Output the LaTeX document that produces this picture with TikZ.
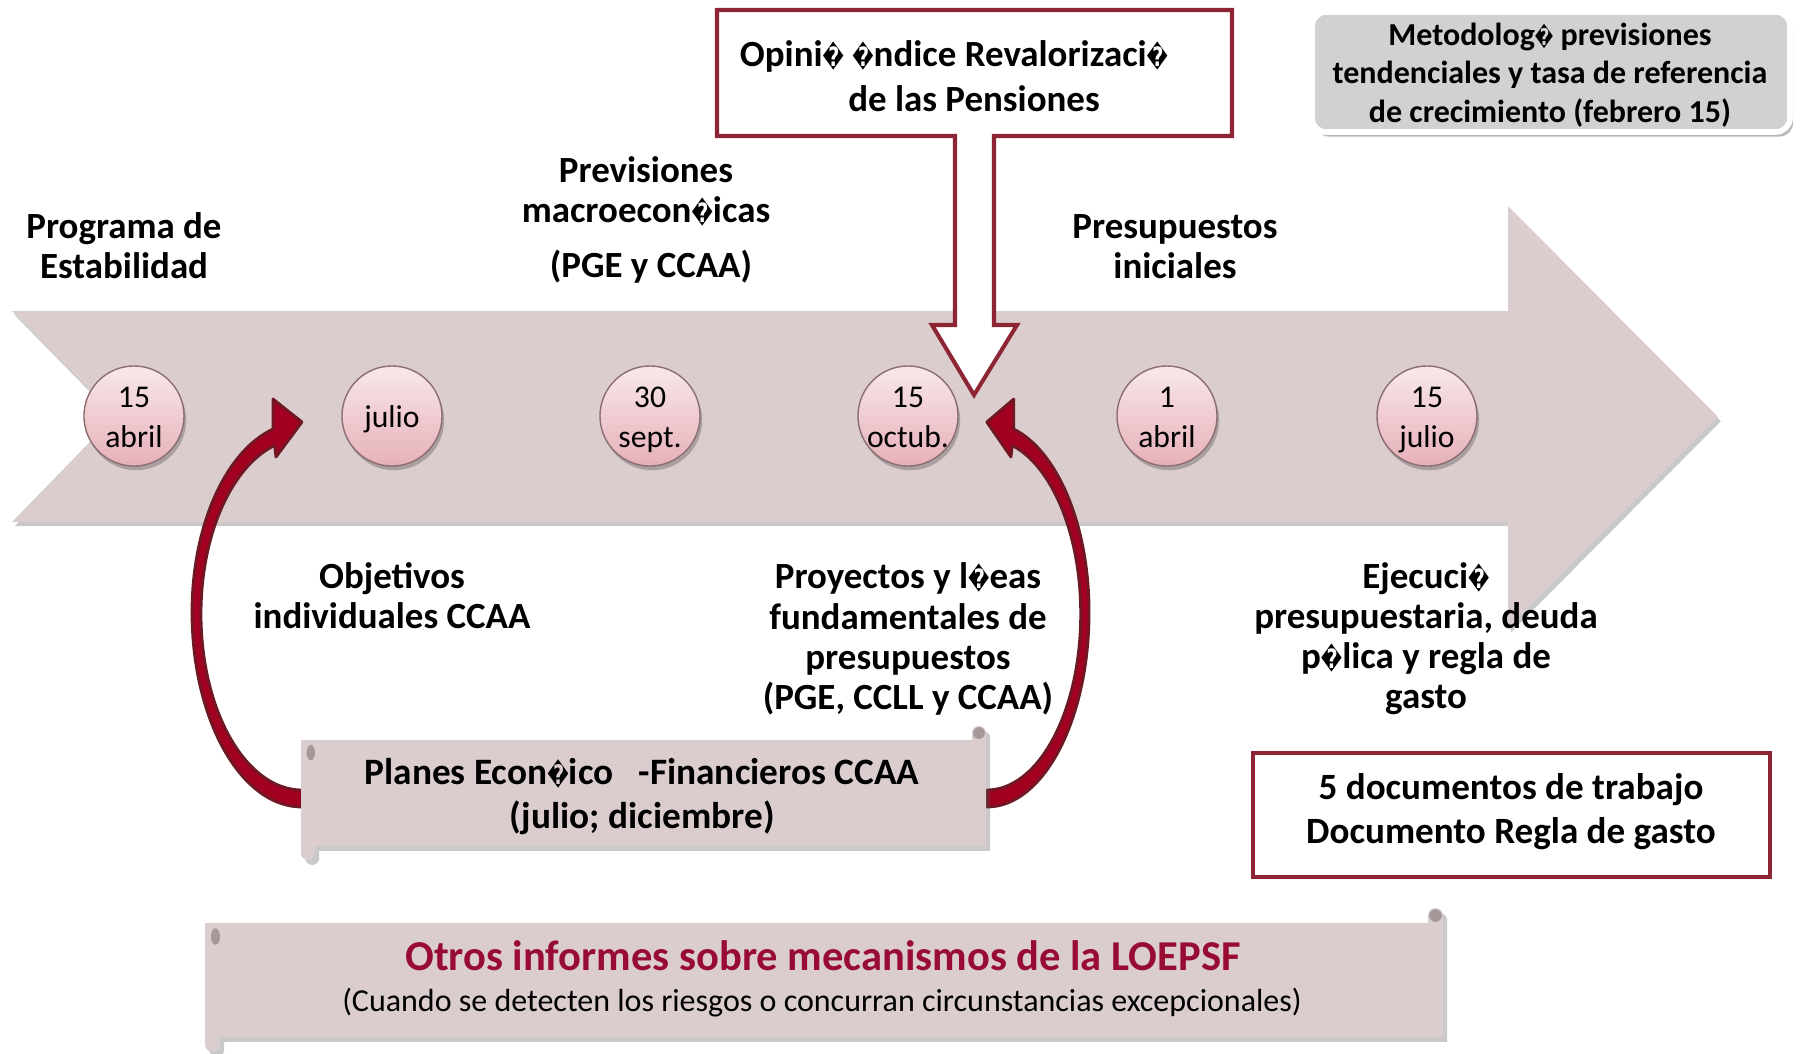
\documentclass[tikz,border=0pt]{standalone}
\usepackage{fontspec}
\usepackage{graphicx}
\setmainfont{Carlito}
\newfontfamily\dvfont{DejaVu Sans}
\usetikzlibrary{shadows}
\newcommand\tofu{{\dvfont\scalebox{0.52}[0.72]{\symbol{"FFFD}}}}
\definecolor{band}{RGB}{219,205,206}
\definecolor{boxred}{RGB}{142,37,52}
\definecolor{arrowred}{RGB}{163,0,33}
\definecolor{arrowdark}{RGB}{110,24,36}
\definecolor{metgray}{RGB}{209,209,209}
\definecolor{titlered}{RGB}{152,12,52}
\definecolor{circtop}{RGB}{248,232,235}
\definecolor{circbot}{RGB}{230,176,184}
\definecolor{circline}{RGB}{140,110,114}
\definecolor{curl}{RGB}{165,152,153}
\newcommand\redcurve{%
  \filldraw[fill=arrowred, draw=arrowdark, line width=0.8pt, line join=round]
    (302,807) .. controls (241,807) and (192,720) .. (192,612)
    .. controls (192,525) and (226,451) .. (273,429)
    -- (273,399) -- (302,422) -- (276,457) -- (274.6,445.5)
    .. controls (232.1,466.1) and (201,533.7) .. (201,614)
    .. controls (201,711.2) and (246.2,790) .. (302,790) -- cycle;}
\newcommand\myscroll[5]{%
  \fill[band, drop shadow={shadow xshift=1.2pt,shadow yshift=-1.4pt,opacity=0.3,fill=black!70}]
    (#1,#2+#5) -- (#3-#5,#2+#5) -- (#3-#5,#2+0.5*#5)
    .. controls (#3-#5,#2+0.22*#5) and (#3-0.78*#5,#2) .. (#3-0.5*#5,#2)
    .. controls (#3-0.22*#5,#2) and (#3,#2+0.22*#5) .. (#3,#2+0.5*#5)
    -- (#3,#4-#5) -- (#1+#5,#4-#5) -- (#1+#5,#4-0.5*#5)
    .. controls (#1+#5,#4-0.22*#5) and (#1+0.78*#5,#4) .. (#1+0.5*#5,#4)
    .. controls (#1+0.22*#5,#4) and (#1,#4-0.22*#5) .. (#1,#4-0.5*#5) -- cycle;
  \fill[curl] (#3-0.5*#5,#2+0.5*#5) circle[radius=0.42*#5];
  \fill[curl] (#1+0.7*#5,#2+1.9*#5) ellipse[x radius=0.3*#5, y radius=0.55*#5];}
\begin{document}
\begin{tikzpicture}[x=0.01cm,y=-0.01cm,
  lab/.style={font=\bfseries\fontsize{10.5}{11.4}\selectfont, align=center, inner sep=0pt},
  datecirc/.style={circle, minimum size=1cm, inner sep=0pt, draw=circline, line width=0.4pt,
    top color=circtop, bottom color=circbot,
    drop shadow={shadow xshift=0.6pt, shadow yshift=-1.2pt, opacity=0.35, fill=black!70}},
  datetext/.style={align=center, inner sep=0pt, font=\fontsize{9}{11.4}\selectfont},
  redbox/.style={draw=boxred, line width=1.15pt, fill=white}]
\useasboundingbox (0,0) rectangle (1802,1053);
% main arrow band
\fill[band, drop shadow={shadow xshift=0.8pt,shadow yshift=-1.2pt,opacity=0.3,fill=black!70}]
  (12,311) -- (1508,311) -- (1508,206) -- (1718,417) -- (1508,628) -- (1508,522) -- (12,522) -- (115,416) -- cycle;
% date circles
\node[datecirc] (c1) at (134,416) {};
\node[datecirc] (c2) at (392,416) {};
\node[datecirc] (c3) at (650,416) {};
\node[datecirc] (c4) at (908,416) {};
\node[datecirc] (c5) at (1167,416) {};
\node[datecirc] (c6) at (1427,416) {};
\node[datetext] (t1) at (134,419.5) {15\strut\\abril\strut};
\node[datetext] (t2) at (392,419.5) {julio\strut};
\node[datetext] (t3) at (650,419.5) {30\strut\\sept.\strut};
\node[datetext] (t4) at (908,419.5) {15\strut\\octub.\strut};
\node[datetext] (t5) at (1167,419.5) {1\strut\\abril\strut};
\node[datetext] (t6) at (1427,419.5) {15\strut\\julio\strut};
% top box with hollow arrow
\filldraw[redbox, line join=miter]
  (955,136) -- (717,136) -- (717,10) -- (1232,10) -- (1232,136) -- (994,136)
  -- (994,325) -- (1017,325) -- (974,395) -- (932,325) -- (955,325) -- cycle;
\node[lab, font=\bfseries\fontsize{10.5}{12}\selectfont] (op1) at (954,56) {Opini\tofu{} \tofu{}ndice Revalorizaci\tofu{}};
\node[lab, font=\bfseries\fontsize{10.5}{12}\selectfont] (op2) at (974,99) {de las Pensiones};
% metodologia box
\filldraw[fill=metgray, draw=white, line width=1.6pt, rounded corners=4pt,
  drop shadow={shadow xshift=0.9pt,shadow yshift=-1.3pt,opacity=0.4,fill=black!70}]
  (1312,12) rectangle (1790,132);
\node[lab, font=\bfseries\fontsize{9.1}{10.95}\selectfont] (met) at (1550,75)
  {Metodolog\tofu{} previsiones\\tendenciales y tasa de referencia\\de crecimiento (febrero 15)};
% labels above
\node[lab] (prog) at (124,246) {Programa de\\Estabilidad};
\node[lab] (prev) at (646,191.5) {Previsiones\\macroecon\tofu{}icas};
\node[lab] (pge) at (651,267) {(PGE y CCAA)};
\node[lab] (pres) at (1175,247) {Presupuestos\\iniciales};
% labels below
\node[lab] (obj) at (392,596) {Objetivos\\individuales CCAA};
\node[lab] (proy) at (908,639) {Proyectos y l\tofu{}eas\\fundamentales de\\presupuestos\\(PGE, CCLL y CCAA)};
\node[lab] (ejec) at (1426,639) {Ejecuci\tofu{}\\presupuestaria, deuda\\p\tofu{}lica y regla de\\gasto};
% curved arrows
\redcurve
\begin{scope}[xshift=12.669cm, xscale=-0.93]
\redcurve
\end{scope}
% planes scroll
\myscroll{301}{726}{986}{860}{14}
\node[lab, font=\bfseries\fontsize{10.6}{12.8}\selectfont] (pl1) at (642,773) {Planes Econ\tofu{}ico~~~-Financieros CCAA};
\node[lab, font=\bfseries\fontsize{10.6}{12.8}\selectfont] (pl2) at (642,818) {(julio; diciembre)};
% 5 documentos box
\draw[redbox] (1253,753) rectangle (1770,877);
\node[lab, font=\bfseries\fontsize{10.55}{12.5}\selectfont] (docs) at (1511,811.5) {5 documentos de trabajo\\Documento Regla de gasto};
% bottom scroll
\myscroll{205}{908}{1443}{1052}{15}
\node[lab, font=\bfseries\fontsize{12.1}{14}\selectfont, text=titlered] (otros) at (823,956) {Otros informes sobre mecanismos de la LOEPSF};
\node[lab, font=\fontsize{9.1}{11}\selectfont] (cuando) at (822,1003) {(Cuando se detecten los riesgos o concurran circunstancias excepcionales)};
\end{tikzpicture}
\end{document}
